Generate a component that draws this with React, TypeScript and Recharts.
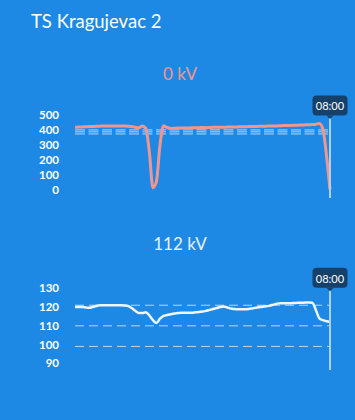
import React from "react";
import { LineChart, Line, XAxis, YAxis, ReferenceLine } from "recharts";

// 20-minute readings, from 08:00 yesterday to 08:00 today
const TIMES: string[] = [];
for (let m = 8 * 60; m <= 32 * 60; m += 20) {
  const h = Math.floor(m / 60) % 24;
  const mm = m % 60;
  TIMES.push(`${String(h).padStart(2, "0")}:${String(mm).padStart(2, "0")}`);
}

const KV400 = [
  418, 419, 420, 421, 422, 423, 424, 425, 426, 426, 427, 427, 427, 426, 426, 425,
  423, 418, 414, 426, 410, 250, 12, 55, 300, 428, 416, 410, 411, 412, 412, 413,
  413, 414, 414, 415, 416, 415, 416, 417, 417, 418, 418, 419, 420, 419, 420, 421,
  421, 422, 422, 423, 424, 424, 425, 426, 427, 427, 428, 429, 429, 430, 431, 432,
  433, 434, 435, 436, 438, 443, 405, 230, 0,
];

const KV110 = [
  120, 120, 120, 119.8, 119.6, 120, 120.6, 121, 121, 121, 121, 121, 121, 121,
  120.9, 120.6, 119.5, 118, 116.8, 116.8, 117.2, 115.5, 113, 111.5, 113.8,
  115.3, 115.8, 116.2, 116.6, 116.8, 117, 117, 117, 117, 117.2, 117.4, 117.6,
  118, 118.5, 119, 119.5, 120, 120.3, 119.8, 119.2, 119, 118.9, 118.9, 118.9,
  119, 119.3, 119.6, 119.9, 120.2, 120.4, 120.8, 121.3, 121.8, 122.1, 122.1,
  122.1, 122.1, 122.2, 122.3, 122.3, 122.4, 122.5, 122.3, 118.5, 114, 113,
  112.4, 112,
];

const TICKS_400 = [0, 100, 200, 300, 400, 500];
const TICKS_110 = [90, 100, 110, 120, 130];
const LIMITS_400 = [400, 387, 373];
const LIMITS_110 = [121, 110, 99];

const data400 = KV400.map((v, i) => ({ i, t: TIMES[i], v }));
const data110 = KV110.map((v, i) => ({ i, t: TIMES[i], v }));
const LAST = TIMES.length - 1;

const FONT = "Lato, 'Open Sans', sans-serif";
const tickStyle = { fill: "#ffffff", fontSize: 11.5, fontWeight: 700, fontFamily: FONT };

function CursorBadge(props: any) {
  const vb = props.viewBox || {};
  const x = vb.x;
  const y = vb.y;
  const w = 35;
  const h = 20;
  const top = y - h - 2.5;
  return (
    <g>
      <rect x={x - w / 2} y={top} width={w} height={h} rx={4} fill="#15406a" />
      <path d={`M${x - 3.5},${top + h} L${x + 3.5},${top + h} L${x},${y + 1} Z`} fill="#15406a" />
      <text
        x={x}
        y={top + h / 2 + 0.5}
        textAnchor="middle"
        dominantBaseline="central"
        fill="#ffffff"
        fontSize={11}
        fontFamily={FONT}
      >
        {props.text}
      </text>
    </g>
  );
}

export default function App() {
  return (
    <div
      style={{
        position: "absolute",
        left: 0,
        top: 0,
        width: 355,
        height: 420,
        background: "#1e88e5",
        fontFamily: FONT,
        overflow: "hidden",
      }}
    >
      <div style={{ position: "absolute", left: 31, top: 10, color: "#ffffff", fontSize: 18.5 }}>
        TS Kragujevac 2
      </div>
      <div
        style={{ position: "absolute", left: 0, width: 360, top: 63, textAlign: "center", color: "#f2968c", fontSize: 17 }}
      >
        {KV400[LAST]} kV
      </div>

      <div style={{ position: "absolute", left: 0, top: 90 }}>
        <LineChart width={355} height={120} data={data400} margin={{ top: 25, right: 25, bottom: 12, left: 0 }}>
          <XAxis dataKey="i" type="number" domain={[0, LAST]} hide />
          <YAxis
            domain={[-57, 500]}
            ticks={TICKS_400}
            width={75}
            axisLine={false}
            tickLine={false}
            tickSize={0}
            tickMargin={16}
            tick={tickStyle}
            interval={0}
          />
          {LIMITS_400.map((y) => (
            <ReferenceLine key={y} y={y} stroke="#cfe5f9" strokeOpacity={0.85} strokeDasharray="10 3.5" />
          ))}
          <Line
            dataKey="v"
            type="monotone"
            stroke="#f2968c"
            strokeWidth={3}
            dot={false}
            isAnimationActive={false}
          />
          <ReferenceLine
            segment={[
              { x: LAST, y: 480 },
              { x: LAST, y: -57 },
            ]}
            stroke="#a9d2f6"
            strokeWidth={2}
            label={<CursorBadge text={TIMES[LAST]} />}
          />
        </LineChart>
      </div>

      <div
        style={{ position: "absolute", left: 0, width: 360, top: 233, textAlign: "center", color: "#e6f1fc", fontSize: 17 }}
      >
        {KV110[LAST]} kV
      </div>

      <div style={{ position: "absolute", left: 0, top: 260 }}>
        <LineChart width={355} height={120} data={data110} margin={{ top: 28, right: 25, bottom: 10, left: 0 }}>
          <XAxis dataKey="i" type="number" domain={[0, LAST]} hide />
          <YAxis
            domain={[86.4, 130.2]}
            ticks={TICKS_110}
            width={75}
            axisLine={false}
            tickLine={false}
            tickSize={0}
            tickMargin={16}
            tick={tickStyle}
            interval={0}
          />
          {LIMITS_110.map((y) => (
            <ReferenceLine key={y} y={y} stroke="#cfe5f9" strokeOpacity={0.85} strokeDasharray="9 5" />
          ))}
          <Line
            dataKey="v"
            type="monotone"
            stroke="#eef5fc"
            strokeWidth={2.5}
            dot={false}
            isAnimationActive={false}
          />
          <ReferenceLine
            segment={[
              { x: LAST, y: 129 },
              { x: LAST, y: 86.4 },
            ]}
            stroke="#a9d2f6"
            strokeWidth={2}
            label={<CursorBadge text={TIMES[LAST]} />}
          />
        </LineChart>
      </div>
    </div>
  );
}
